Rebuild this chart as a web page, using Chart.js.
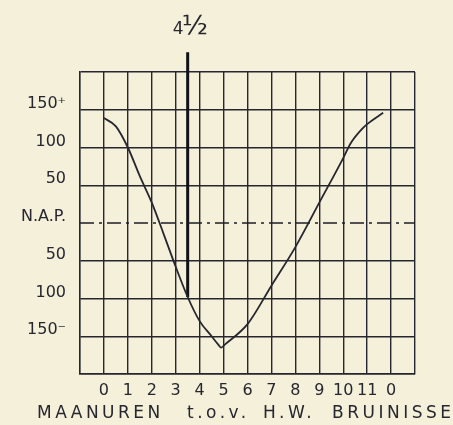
<!DOCTYPE html>
<html>
<head>
<meta charset="utf-8">
<script src="https://cdn.jsdelivr.net/npm/chart.js@4/dist/chart.umd.min.js"></script>
<style>
  html, body { margin: 0; padding: 0; background: #f4f0da; }
  canvas { display: block; }
</style>
</head>
<body>
<canvas id="tide" width="453" height="425"></canvas>
<script>
// getijkromme: waterstand t.o.v. N.A.P. (cm) per maanuur na H.W. Bruinisse
const hours = [0, 0.5, 1, 1.5, 2, 2.5, 3, 3.5, 4, 4.5, 4.78, 4.9, 5.05, 6, 7, 8, 9, 10, 10.3, 10.8, 11, 11.67];
const levels = [139, 128, 100, 62, 27, -15, -58, -98, -130, -150, -161, -165, -161, -134, -83, -32, 27, 86, 105, 125, 131, 146];

const hourLabels = ['', '0', '1', '2', '3', '4', '5', '6', '7', '8', '9', '10', '11', '0', ''];
const levelTicks = [-200, -150, -100, -50, 0, 50, 100, 150, 200];
const levelLabels = ['', '150\u207B', '100', '50', 'N.A.P.', '50', '100', '150\u207A', ''];

// markering 4½ maanuur
const markHour = [3.5, 3.5];
const markLevel = [226, -98];

const napLevel = 0;
const ink = '#26262f';

const curve = hours.map((h, i) => ({ x: h, y: levels[i] }));

const extraText = {
    id: 'extraText',
    afterDraw(chart) {
        const ctx = chart.ctx;
        const x = chart.scales.x;
        ctx.save();
        ctx.fillStyle = ink;
        ctx.textBaseline = 'alphabetic';
        // 4½ boven de markering
        const cx = x.getPixelForValue(markHour[0]);
        ctx.font = '17px "DejaVu Sans"';
        ctx.textAlign = 'right';
        ctx.fillText('4', cx - 4, 34);
        ctx.font = '27px "DejaVu Sans"';
        ctx.textAlign = 'left';
        ctx.fillText('\u00BD', cx - 6, 34);
        // as-titel
        ctx.font = '17px "DejaVu Sans"';
        ctx.letterSpacing = '3.5px';
        ctx.fillText('MAANUREN', 37, 418);
        ctx.fillText('t.o.v.', 187, 418);
        ctx.fillText('H.W.', 263, 418);
        ctx.fillText('BRUINISSE', 332, 418);
        ctx.restore();
    }
};

new Chart(document.getElementById('tide'), {
    type: 'line',
    data: {
        datasets: [
            {
                data: curve,
                borderColor: ink,
                borderWidth: 1.8,
                pointRadius: 0,
                cubicInterpolationMode: 'monotone'
            },
            {
                data: [{ x: -1, y: napLevel }, { x: 13, y: napLevel }],
                borderColor: '#1e1e26',
                borderWidth: 1.5,
                borderDash: [14, 5, 3, 5],
                pointRadius: 0
            },
            {
                data: markHour.map((h, i) => ({ x: h, y: markLevel[i] })),
                borderColor: '#111118',
                borderWidth: 3,
                pointRadius: 0,
                clip: false
            }
        ]
    },
    options: {
        responsive: false,
        animation: false,
        layout: { padding: { top: 72, right: 38, left: 0, bottom: 0 } },
        plugins: {
            legend: { display: false },
            tooltip: { enabled: false }
        },
        scales: {
            x: {
                type: 'linear',
                min: -1,
                max: 13,
                afterFit: (s) => { s.height = 51; },
                afterBuildTicks: (s) => { s.ticks = hourLabels.map((_, i) => ({ value: i - 1 })); },
                ticks: {
                    autoSkip: false,
                    maxRotation: 0,
                    padding: 7,
                    color: ink,
                    font: { family: 'DejaVu Sans', size: 16 },
                    callback: (v) => hourLabels[v + 1]
                },
                grid: { color: ink, lineWidth: 1.4, drawTicks: false },
                border: { color: ink, width: 1.4 }
            },
            y: {
                type: 'linear',
                min: -200,
                max: 200,
                afterFit: (s) => { s.width = 80; },
                afterBuildTicks: (s) => { s.ticks = levelTicks.map((v) => ({ value: v })); },
                ticks: {
                    padding: 14,
                    labelOffset: -6,
                    color: ink,
                    font: { family: 'DejaVu Sans', size: 16 },
                    callback: (v) => levelLabels[levelTicks.indexOf(v)]
                },
                grid: {
                    color: (c) => (c.tick && c.tick.value === napLevel ? 'rgba(0,0,0,0)' : ink),
                    lineWidth: 1.4,
                    drawTicks: false
                },
                border: { color: ink, width: 1.4 }
            }
        }
    },
    plugins: [extraText]
});
</script>
</body>
</html>
